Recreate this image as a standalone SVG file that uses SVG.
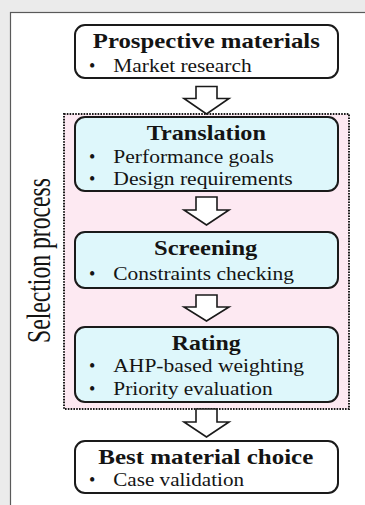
<svg xmlns="http://www.w3.org/2000/svg" width="365" height="505" viewBox="0 0 365 505">
<defs>
<style>
.bg{fill:#ebebeb}
.panel{fill:#ffffff;stroke:#5a5a5a;stroke-width:1.2}
.frame{fill:#fde9f2;stroke:#1a1a1a;stroke-width:2;stroke-dasharray:1.6 1.2}
.box{fill:#ffffff;stroke:#1a1a1a;stroke-width:2}
.cbox{fill:#def7fb;stroke:#1a1a1a;stroke-width:2}
.arrow{fill:#ffffff;stroke:#1a1a1a;stroke-width:1.6;stroke-linejoin:miter}
text{font-family:"Liberation Serif","Times New Roman",serif;fill:#141414}
.t{font-size:21px;font-weight:bold;text-anchor:middle}
.b{font-size:18px}
.side{font-size:34px}
</style>
</defs>
<rect class="bg" x="0" y="0" width="365" height="505"/>
<rect class="panel" x="10.5" y="12.5" width="400" height="600"/>
<rect class="frame" x="64" y="114" width="285" height="295"/>
<text class="side" transform="translate(50,343) rotate(-90)" textLength="165" lengthAdjust="spacingAndGlyphs">Selection process</text>

<g id="connectors">
<path class="arrow" d="M196,86.5 H217 V98.5 H229 L206.5,114 L184,98.5 H196 Z"/>
<path class="arrow" d="M196,197 H217 V210 H229 L206.5,225 L184,210 H196 Z"/>
<path class="arrow" d="M196,295 H217 V307 H229 L206.5,321 L184,307 H196 Z"/>
<path class="arrow" d="M196,409 H217 V422 H229 L206.5,437 L184,422 H196 Z"/>
</g>

<g id="prospective">
<rect class="box" x="75" y="25" width="263" height="53" rx="10"/>
<text class="t" x="206.3" y="48" textLength="227" lengthAdjust="spacingAndGlyphs">Prospective materials</text>
<text class="b" x="89" y="72">•</text>
<text class="b" x="113.3" y="72" textLength="138.4" lengthAdjust="spacingAndGlyphs">Market research</text>
</g>

<g id="translation">
<rect class="cbox" x="75" y="117" width="263" height="74" rx="10"/>
<text class="t" x="206.3" y="140" textLength="119.3" lengthAdjust="spacingAndGlyphs">Translation</text>
<text class="b" x="89" y="163">•</text>
<text class="b" x="113.3" y="163" textLength="160.7" lengthAdjust="spacingAndGlyphs">Performance goals</text>
<text class="b" x="89" y="185">•</text>
<text class="b" x="113.3" y="185" textLength="179.4" lengthAdjust="spacingAndGlyphs">Design requirements</text>
</g>

<g id="screening">
<rect class="cbox" x="75" y="232" width="263" height="56" rx="10"/>
<text class="t" x="205.7" y="255" textLength="103.3" lengthAdjust="spacingAndGlyphs">Screening</text>
<text class="b" x="89" y="279.5">•</text>
<text class="b" x="113.3" y="279.5" textLength="180.7" lengthAdjust="spacingAndGlyphs">Constraints checking</text>
</g>

<g id="rating">
<rect class="cbox" x="75" y="327" width="263" height="75" rx="10"/>
<text class="t" x="206.2" y="350" textLength="69" lengthAdjust="spacingAndGlyphs">Rating</text>
<text class="b" x="89" y="371.5">•</text>
<text class="b" x="113.3" y="371.5" textLength="190.7" lengthAdjust="spacingAndGlyphs">AHP-based weighting</text>
<text class="b" x="89" y="395">•</text>
<text class="b" x="113.3" y="395" textLength="159.4" lengthAdjust="spacingAndGlyphs">Priority evaluation</text>
</g>

<g id="best">
<rect class="box" x="75" y="441" width="263" height="52" rx="10"/>
<text class="t" x="205.8" y="463.5" textLength="215" lengthAdjust="spacingAndGlyphs">Best material choice</text>
<text class="b" x="89" y="486">•</text>
<text class="b" x="113.3" y="486" textLength="130.7" lengthAdjust="spacingAndGlyphs">Case validation</text>
</g>
</svg>
